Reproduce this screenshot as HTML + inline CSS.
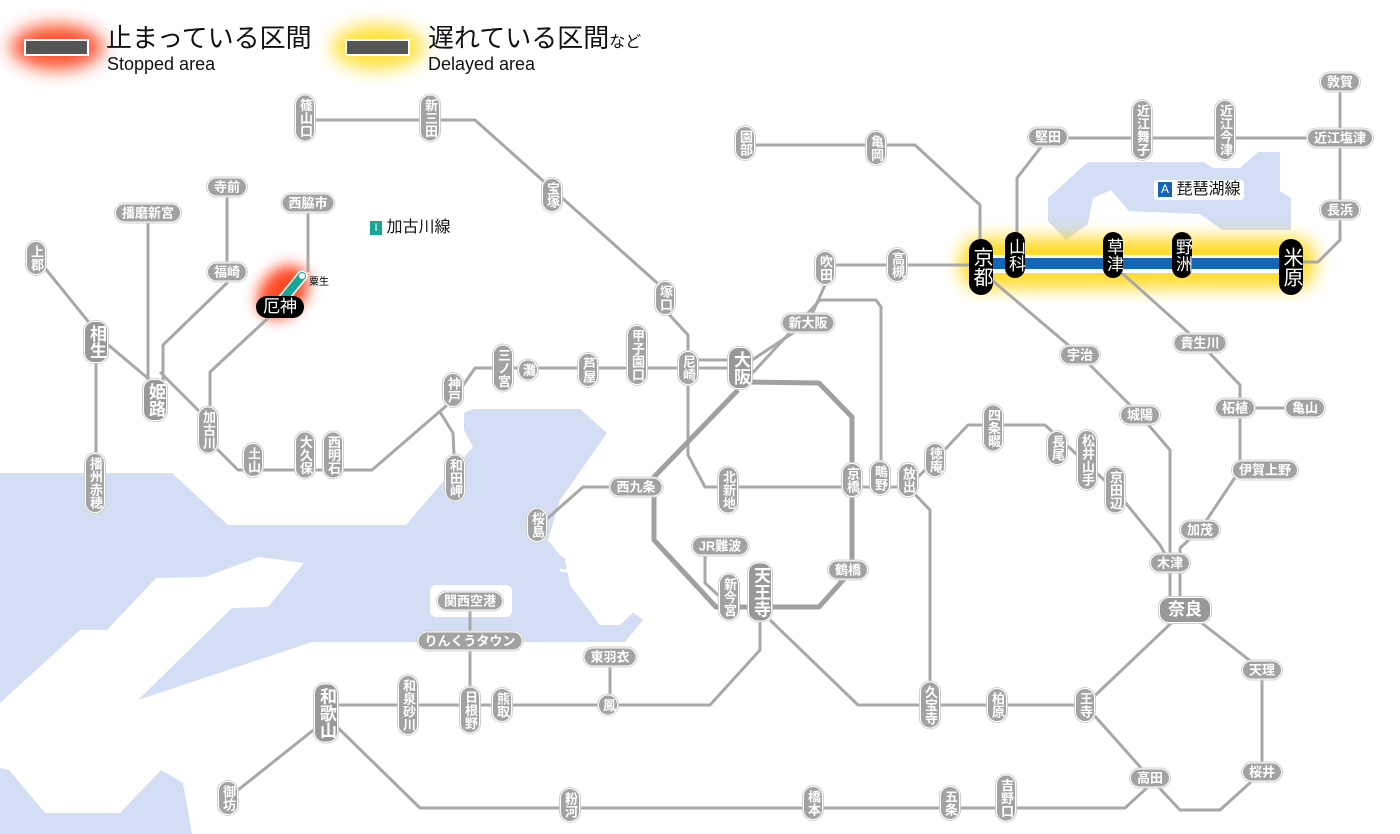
<!DOCTYPE html>
<html><head><meta charset="utf-8">
<style>
html,body{margin:0;padding:0;background:#fff;}
#c{position:relative;width:1400px;height:834px;overflow:hidden;font-family:"Liberation Sans","Noto Sans CJK JP",sans-serif;}
svg{position:absolute;left:0;top:0;}
.s{position:absolute;transform:translate(-50%,-50%);background:#a2a2a2;color:#fff;border:1.5px solid #fff;box-shadow:0 0 0 1px #d0d0d0;font-size:13px;line-height:15px;white-space:nowrap;font-weight:bold;}
.v{writing-mode:vertical-rl;text-orientation:upright;border-radius:10px;padding:3px 1px;width:16px;}
.h{border-radius:10px;padding:1px 6px;}
.L{font-size:17px;line-height:19px;width:20px;background:#989898;}
.hL{font-size:17px;line-height:20px;background:#989898;padding:2px 8px;}
.b{background:#000;box-shadow:none;border:none;color:#fff;font-weight:normal;}
</style></head><body><div id="c">
<svg width="1400" height="834" viewBox="0 0 1400 834">
<defs>
<filter id="bl" x="-50%" y="-50%" width="200%" height="200%"><feGaussianBlur stdDeviation="9"/></filter>
<filter id="bl2" x="-50%" y="-50%" width="200%" height="200%"><feGaussianBlur stdDeviation="7"/></filter>
</defs>
<!-- sea -->
<path fill="#d3ddf3" d="M0,473 L172,473 L228,525 L406,525 L464,457 L473,447 L464,430 L464,413 L473,409 L580,409 L607,433 L560,500 L548,540 L560,555 L643,620 L625,642 L312,642 L138,700 L138,753 L161,770 L183,783 L192,834 L0,834 Z"/>
<path fill="#fff" d="M0,703 L80,630 L107,630 L156,578 L205,577 L259,557 L304,563 L268,607 L232,608 L138,700 L138,753 L161,770 L120,813 L45,813 L9,770 L0,768 Z"/>
<rect x="430" y="585" width="82" height="32" rx="6" fill="#fff"/>
<path fill="#fff" d="M565,560 L600,560 L636,610 L620,625 L600,625 L570,585 Z"/>
<path fill="none" stroke="#fff" stroke-width="3" d="M548,540 L580,540 M560,570 L590,575"/>
<!-- lake -->
<path fill="#d3ddf3" d="M1088,162 L1204,162 L1213,168 L1240,168 L1258,152 L1280,152 L1280,191 L1291,198 L1291,230 L1222,230 L1200,214 L1129,211 L1111,190 L1093,198 L1088,224 L1066,240 L1048,221 L1048,198 L1070,178 Z"/>
<!-- glows -->
<ellipse cx="57" cy="47" rx="46" ry="22" fill="#ff2a00" filter="url(#bl)" opacity="0.85"/>
<ellipse cx="378" cy="47" rx="46" ry="22" fill="#ffd800" filter="url(#bl)" opacity="0.8"/>
<ellipse cx="283" cy="292" rx="22" ry="30" transform="rotate(40 283 292)" fill="#ff2a00" filter="url(#bl2)" opacity="0.85"/>
<rect x="960" y="238" width="355" height="50" rx="20" fill="#ffd400" filter="url(#bl)" opacity="0.85"/>
<!-- legend bars -->
<rect x="25" y="40" width="63" height="15" fill="#555" stroke="#fff" stroke-width="2"/>
<rect x="346" y="40" width="63" height="15" fill="#555" stroke="#fff" stroke-width="2"/>
<g fill="none" stroke="#a8a8a8" stroke-width="3" stroke-linejoin="round">
<polyline points="305,120 475,120 665,290 665,310 688,335 688,455 705,487 908,487"/>
<polyline points="453,400 475,368 740,368"/>
<polyline points="688,360 740,360"/>
<polyline points="453,400 372,470 238,470 218,450 208,440"/>
<polyline points="208,420 160,372"/>
<polyline points="150,380 100,338 87,320 36,257"/>
<polyline points="96,340 96,480"/>
<polyline points="148,213 148,390"/>
<polyline points="227,187 227,283 163,345 163,390"/>
<polyline points="308,203 308,272"/>
<polyline points="280,307 210,372 210,430"/>
<polyline points="440,412 453,433 455,477"/>
<polyline points="740,368 808,323 825,285 825,265 848,265 980,265"/>
<polyline points="748,378 820,300 876,300 881,307 881,487"/>
<polyline points="636,487 583,487 540,525"/>
<polyline points="705,546 705,583 720,597 729,597"/>
<polyline points="760,610 760,650 710,705 325,705"/>
<polyline points="326,720 228,798"/>
<polyline points="330,720 420,808 1125,808 1150,785"/>
<polyline points="610,657 610,705"/>
<polyline points="470,601 470,705"/>
<polyline points="770,620 858,705 1085,705 1185,610"/>
<polyline points="1085,705 1150,778 1180,810 1220,810 1262,772 1262,670 1185,610"/>
<polyline points="908,487 930,510 930,705"/>
<polyline points="908,487 935,460 968,425 1045,425 1115,490 1160,545 1170,563"/>
<polyline points="980,270 1080,355 1140,415 1170,450 1170,610"/>
<polyline points="1180,563 1180,610"/>
<polyline points="1113,265 1200,343 1240,385 1240,470 1200,530 1180,548 1180,565"/>
<polyline points="1235,408 1305,408"/>
<polyline points="745,145 915,145 980,205 980,240"/>
<polyline points="1017,240 1017,178 1048,138 1340,138"/>
<polyline points="1340,82 1340,240 1318,262 1295,262"/>
</g>
<polyline fill="none" stroke="#a0a0a0" stroke-width="5" stroke-linejoin="round" points="745,382 819,383 852,417 852,570 819,607 716,607 654,540 654,477 738,390"/>
<line x1="302" y1="276" x2="280" y2="303" stroke="#fff" stroke-width="11" stroke-linecap="round"/>
<line x1="302" y1="276" x2="280" y2="303" stroke="#17a596" stroke-width="8" stroke-linecap="round"/>
<circle cx="302" cy="276" r="3" fill="#fff"/>
<rect x="985" y="255" width="305" height="18" fill="#fff"/>
<rect x="985" y="258" width="305" height="11" fill="#1565b5"/>
</svg>

<div style="position:absolute;left:106px;top:22px;font-size:26px;line-height:32px;color:#111;">止まっている区間</div>
<div style="position:absolute;left:107px;top:53px;font-size:18px;line-height:22px;color:#111;">Stopped area</div>
<div style="position:absolute;left:428px;top:22px;font-size:26px;line-height:32px;color:#111;">遅れている区間<span style="font-size:16px">など</span></div>
<div style="position:absolute;left:428px;top:53px;font-size:18px;line-height:22px;color:#111;">Delayed area</div>

<div style="position:absolute;left:366px;top:218px;font-size:16px;line-height:20px;color:#111;background:#fff;padding:0 4px;"><span style="display:inline-block;background:#17a596;color:#fff;width:12px;height:14px;font-size:11px;line-height:14px;text-align:center;vertical-align:1px;">I</span> 加古川線</div>
<div style="position:absolute;left:1154px;top:180px;font-size:16px;line-height:20px;color:#111;background:#fff;padding:0 4px;border-radius:3px;"><span style="display:inline-block;background:#1565b5;color:#fff;width:14px;height:15px;font-size:12px;line-height:15px;text-align:center;vertical-align:1px;">A</span> 琵琶湖線</div>
<div style="position:absolute;left:309px;top:273px;font-size:10px;color:#000;">粟生</div>

<div class="s v" style="left:305px;top:118px">篠山口</div>
<div class="s v" style="left:430px;top:118px">新三田</div>
<div class="s v" style="left:552px;top:195px">宝塚</div>
<div class="s v" style="left:665px;top:298px">塚口</div>
<div class="s v" style="left:688px;top:368px">尼崎</div>
<div class="s v" style="left:637px;top:355px">甲子園口</div>
<div class="s v" style="left:588px;top:370px">芦屋</div>
<div class="s v" style="left:528px;top:370px">灘</div>
<div class="s v" style="left:503px;top:368px">三ノ宮</div>
<div class="s v" style="left:453px;top:390px">神戸</div>
<div class="s v" style="left:455px;top:478px">和田岬</div>
<div class="s v" style="left:333px;top:455px">西明石</div>
<div class="s v" style="left:305px;top:455px">大久保</div>
<div class="s v" style="left:253px;top:460px">土山</div>
<div class="s v" style="left:208px;top:430px">加古川</div>
<div class="s v L" style="left:155px;top:400px">姫路</div>
<div class="s v L" style="left:96px;top:342px">相生</div>
<div class="s v" style="left:36px;top:258px">上郡</div>
<div class="s v" style="left:95px;top:483px">播州赤穂</div>
<div class="s v" style="left:537px;top:525px">桜島</div>
<div class="s v" style="left:728px;top:490px">北新地</div>
<div class="s v" style="left:852px;top:480px">京橋</div>
<div class="s v" style="left:880px;top:478px">鴫野</div>
<div class="s v" style="left:908px;top:480px">放出</div>
<div class="s v" style="left:935px;top:460px">徳庵</div>
<div class="s v" style="left:993px;top:428px">四条畷</div>
<div class="s v" style="left:1057px;top:448px">長尾</div>
<div class="s v" style="left:1087px;top:460px">松井山手</div>
<div class="s v" style="left:1115px;top:490px">京田辺</div>
<div class="s v" style="left:729px;top:597px">新今宮</div>
<div class="s v L" style="left:760px;top:592px">天王寺</div>
<div class="s v L" style="left:740px;top:368px">大阪</div>
<div class="s v" style="left:825px;top:268px">吹田</div>
<div class="s v" style="left:897px;top:265px">高槻</div>
<div class="s v" style="left:745px;top:143px">園部</div>
<div class="s v" style="left:876px;top:148px">亀岡</div>
<div class="s v" style="left:1142px;top:130px">近江舞子</div>
<div class="s v" style="left:1225px;top:130px">近江今津</div>
<div class="s v" style="left:930px;top:705px">久宝寺</div>
<div class="s v" style="left:997px;top:705px">柏原</div>
<div class="s v" style="left:1085px;top:705px">王寺</div>
<div class="s v L" style="left:326px;top:713px">和歌山</div>
<div class="s v" style="left:408px;top:705px">和泉砂川</div>
<div class="s v" style="left:470px;top:710px">日根野</div>
<div class="s v" style="left:502px;top:705px">熊取</div>
<div class="s v" style="left:608px;top:705px">鳳</div>
<div class="s v" style="left:228px;top:798px">御坊</div>
<div class="s v" style="left:570px;top:805px">粉河</div>
<div class="s v" style="left:813px;top:803px">橋本</div>
<div class="s v" style="left:950px;top:803px">五条</div>
<div class="s v" style="left:1006px;top:798px">吉野口</div>

<div class="s h" style="left:227px;top:187px">寺前</div>
<div class="s h" style="left:148px;top:213px">播磨新宮</div>
<div class="s h" style="left:227px;top:272px">福崎</div>
<div class="s h" style="left:308px;top:203px">西脇市</div>
<div class="s h" style="left:808px;top:323px">新大阪</div>
<div class="s h" style="left:636px;top:487px">西九条</div>
<div class="s h" style="left:720px;top:546px">JR難波</div>
<div class="s h" style="left:848px;top:570px">鶴橋</div>
<div class="s h" style="left:610px;top:657px">東羽衣</div>
<div class="s h" style="left:470px;top:601px">関西空港</div>
<div class="s h" style="left:470px;top:641px">りんくうタウン</div>
<div class="s h" style="left:1080px;top:355px">宇治</div>
<div class="s h" style="left:1140px;top:415px">城陽</div>
<div class="s h" style="left:1200px;top:343px">貴生川</div>
<div class="s h" style="left:1235px;top:408px">柘植</div>
<div class="s h" style="left:1305px;top:408px">亀山</div>
<div class="s h" style="left:1265px;top:470px">伊賀上野</div>
<div class="s h" style="left:1200px;top:530px">加茂</div>
<div class="s h" style="left:1170px;top:563px">木津</div>
<div class="s h hL" style="left:1185px;top:610px">奈良</div>
<div class="s h" style="left:1262px;top:670px">天理</div>
<div class="s h" style="left:1262px;top:772px">桜井</div>
<div class="s h" style="left:1150px;top:778px">高田</div>
<div class="s h" style="left:1048px;top:137px">堅田</div>
<div class="s h" style="left:1340px;top:138px">近江塩津</div>
<div class="s h" style="left:1340px;top:82px">敦賀</div>
<div class="s h" style="left:1340px;top:210px">長浜</div>

<div class="s v b" style="left:981px;top:267px;font-size:20px;line-height:24px;width:24px;padding:8px 0;border-radius:12px;">京都</div>
<div class="s v b" style="left:1015px;top:255px;font-size:17px;line-height:20px;width:20px;padding:6px 0;border-radius:10px;">山科</div>
<div class="s v b" style="left:1113px;top:255px;font-size:17px;line-height:20px;width:20px;padding:6px 0;border-radius:10px;">草津</div>
<div class="s v b" style="left:1182px;top:255px;font-size:17px;line-height:20px;width:20px;padding:6px 0;border-radius:10px;">野洲</div>
<div class="s v b" style="left:1291px;top:267px;font-size:20px;line-height:24px;width:24px;padding:8px 0;border-radius:12px;">米原</div>
<div class="s h b" style="left:280px;top:307px;font-size:17px;line-height:20px;padding:1px 7px;border-radius:11px;">厄神</div>
</div></body></html>
